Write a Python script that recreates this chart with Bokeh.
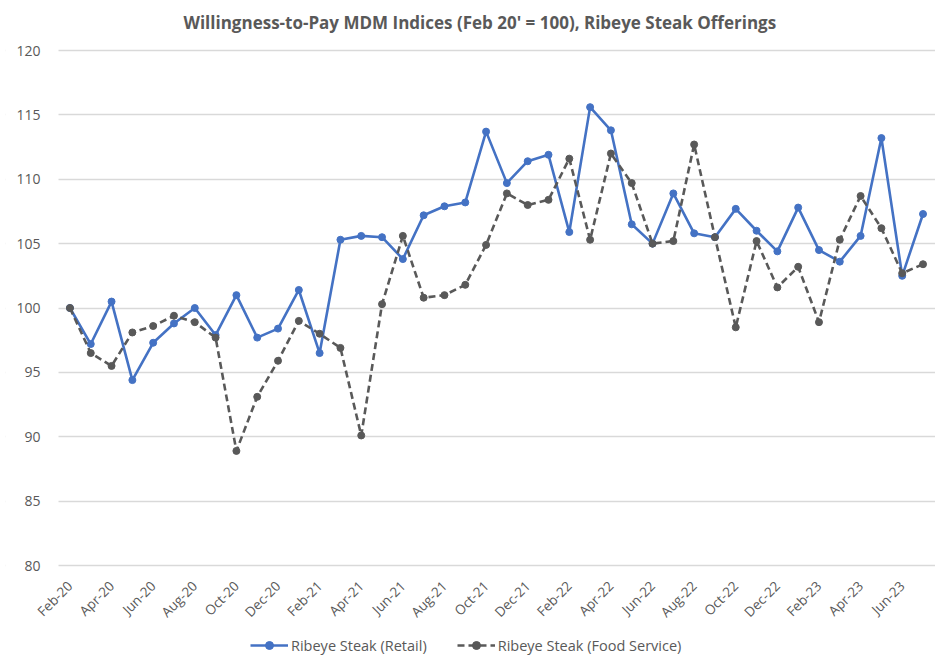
import math
from bokeh.plotting import figure
from bokeh.models import FixedTicker, Range1d, Legend, LegendItem, BoxAnnotation
from bokeh.embed import file_html
from bokeh.resources import INLINE

months = ["Feb-20", "Mar-20", "Apr-20", "May-20", "Jun-20", "Jul-20", "Aug-20", "Sep-20",
          "Oct-20", "Nov-20", "Dec-20", "Jan-21", "Feb-21", "Mar-21", "Apr-21", "May-21",
          "Jun-21", "Jul-21", "Aug-21", "Sep-21", "Oct-21", "Nov-21", "Dec-21", "Jan-22",
          "Feb-22", "Mar-22", "Apr-22", "May-22", "Jun-22", "Jul-22", "Aug-22", "Sep-22",
          "Oct-22", "Nov-22", "Dec-22", "Jan-23", "Feb-23", "Mar-23", "Apr-23", "May-23",
          "Jun-23", "Jul-23"]

retail = [100.0, 97.2, 100.5, 94.4, 97.3, 98.8, 100.0, 97.9,
          101.0, 97.7, 98.4, 101.4, 96.5, 105.3, 105.6, 105.5,
          103.8, 107.2, 107.9, 108.2, 113.7, 109.7, 111.4, 111.9,
          105.9, 115.6, 113.8, 106.5, 105.0, 108.9, 105.8, 105.5,
          107.7, 106.0, 104.4, 107.8, 104.5, 103.6, 105.6, 113.2,
          102.5, 107.3]

food_service = [100.0, 96.5, 95.5, 98.1, 98.6, 99.4, 98.9, 97.7,
                88.9, 93.1, 95.9, 99.0, 98.0, 96.9, 90.1, 100.3,
                105.6, 100.8, 101.0, 101.8, 104.9, 108.9, 108.0, 108.4,
                111.6, 105.3, 112.0, 109.7, 105.0, 105.2, 112.7, 105.5,
                98.5, 105.2, 101.6, 103.2, 98.9, 105.3, 108.7, 106.2,
                102.7, 103.4]

y_ticks = [80, 85, 90, 95, 100, 105, 110, 115, 120]

x = list(range(len(months)))
FONT = "Open Sans"
TXT = "#595959"

# layout: plot area (gridlines) spans 877 px for x in [-0.55, 41.6] and 515 px for y in [80, 120];
# the frame is larger so that tick labels and legend can be placed inside it
X_PX = 877 / 42.15
Y_PX = 515 / 40
AREA_LEFT = -0.55
x_lo = AREA_LEFT - 53 / X_PX
y_lo = 80 - 96 / Y_PX
y_hi = 120 + 9 / Y_PX

p = figure(frame_width=930, frame_height=620, output_backend="svg", toolbar_location=None,
           x_range=Range1d(x_lo, 41.6), y_range=Range1d(y_lo, y_hi),
           min_border_left=5, min_border_right=0, min_border_top=40, min_border_bottom=0)

p.title.text = "Willingness-to-Pay MDM Indices (Feb 20' = 100), Ribeye Steak Offerings"
p.title.align = "left"
p.title.text_font = FONT
p.title.text_font_size = "17px"
p.title.text_font_style = "bold"
p.title.text_color = TXT
p.title.offset = 178
p.title.standoff = 16

p.outline_line_color = None
p.background_fill_color = "white"
p.border_fill_color = "white"

p.xaxis.ticker = FixedTicker(ticks=list(range(0, len(months), 2)))
p.xaxis.major_label_overrides = {i: months[i] for i in range(0, len(months), 2)}
p.xaxis.major_label_orientation = math.pi / 4
p.xaxis.fixed_location = 80
p.yaxis.ticker = FixedTicker(ticks=y_ticks)
p.yaxis.fixed_location = AREA_LEFT

for ax in (p.xaxis[0], p.yaxis[0]):
    ax.axis_line_color = None
    ax.major_tick_line_color = None
    ax.minor_tick_line_color = None
    ax.major_tick_out = 0
    ax.minor_tick_out = 0
    ax.axis_label = None
    ax.major_label_text_font = FONT
    ax.major_label_text_color = TXT
p.xaxis.major_label_text_font_size = "13.5px"
p.xaxis.major_label_standoff = 18
p.yaxis.major_label_text_font_size = "14px"
p.yaxis.major_label_standoff = 18

p.xgrid.grid_line_color = None
p.ygrid.grid_line_color = "#d9d9d9"
p.ygrid.grid_line_width = 1.3

# keep gridlines out of the tick-label margin on the left
mask = BoxAnnotation(right=AREA_LEFT, fill_color="white", fill_alpha=1.0,
                     line_color=None, level="underlay")
p.add_layout(mask)

r1 = p.line(x, retail, line_color="#4472C4", line_width=2.6)
s1 = p.scatter(x, retail, size=7, fill_color="#4472C4", line_color="#4472C4")
r2 = p.line(x, food_service, line_color="#595959", line_width=2.6, line_dash="7 4")
s2 = p.scatter(x, food_service, size=7, fill_color="#595959", line_color="#595959")

legend = Legend(items=[LegendItem(label="Ribeye Steak (Retail)", renderers=[r1, s1]),
                       LegendItem(label="Ribeye Steak (Food Service)", renderers=[r2, s2])],
                orientation="horizontal", location=(245, 6),
                label_text_font=FONT, label_text_font_size="14.5px", label_text_color=TXT,
                label_standoff=3, border_line_color=None, background_fill_alpha=0,
                glyph_width=38, spacing=30, margin=0, padding=2)
p.add_layout(legend, "center")

open("out.html", "w").write(file_html(p, INLINE))
